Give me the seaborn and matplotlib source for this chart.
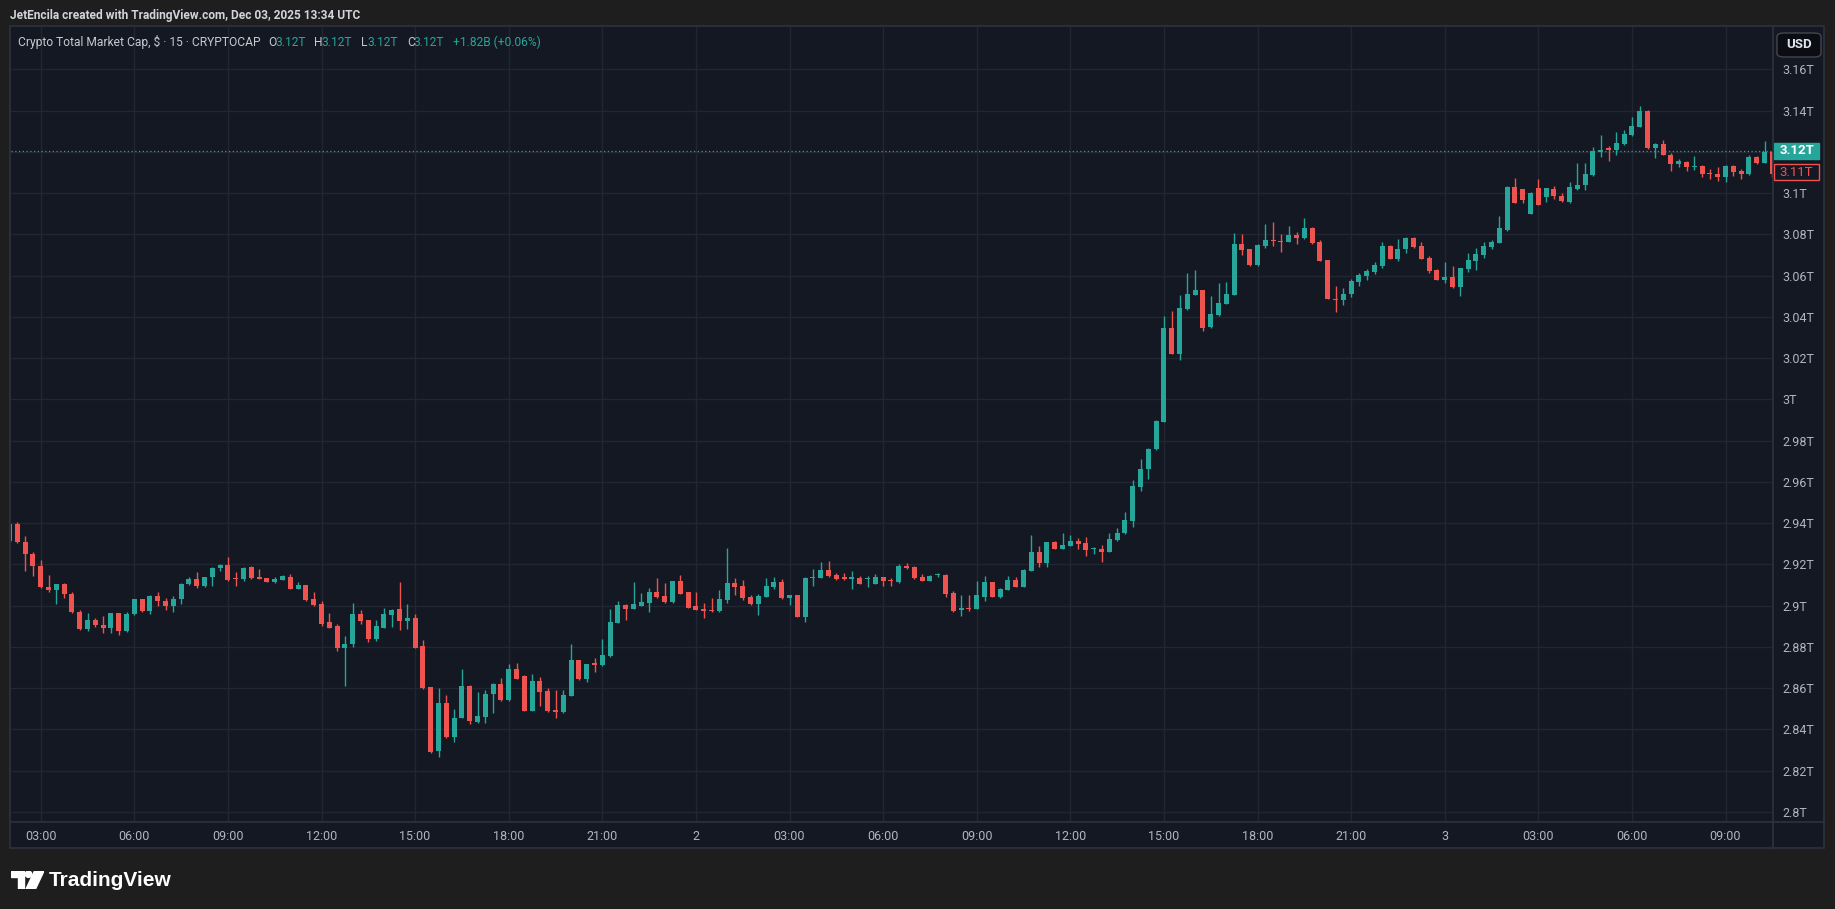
import matplotlib
matplotlib.use("Agg")
import pandas as pd
import matplotlib.pyplot as plt
import matplotlib.transforms as mtransforms
from matplotlib.patches import Rectangle, FancyBboxPatch, Polygon, Circle
from matplotlib.lines import Line2D
from matplotlib import font_manager
import seaborn as sns

W, H = 1835, 909

# 15 minute candles, CRYPTOCAP total market cap in trillions USD
START = "2025-12-01 02:00"

OPEN = [
    2.9316, 2.9397, 2.9310, 2.9251, 2.9193, 2.9089, 2.9076, 2.9104, 2.9057, 2.8971,
    2.8885, 2.8930, 2.8906, 2.8890, 2.8963, 2.8879, 2.8960, 2.9031, 2.8976, 2.9047,
    2.9023, 2.8998, 2.9032, 2.9105, 2.9130, 2.9096, 2.9138, 2.9183, 2.9198, 2.9131,
    2.9127, 2.9188, 2.9137, 2.9132, 2.9116, 2.9126, 2.9137, 2.9080, 2.9100, 2.9032,
    2.9007, 2.8920, 2.8900, 2.8797, 2.8813, 2.8959, 2.8930, 2.8840, 2.8894, 2.8954,
    2.8983, 2.8925, 2.8939, 2.8803, 2.8606, 2.8294, 2.8528, 2.8363, 2.8457, 2.8609,
    2.8437, 2.8460, 2.8573, 2.8622, 2.8541, 2.8695, 2.8657, 2.8492, 2.8633, 2.8586,
    2.8492, 2.8487, 2.8562, 2.8735, 2.8643, 2.8722, 2.8711, 2.8756, 2.8917, 2.9002,
    2.8986, 2.8999, 2.9014, 2.9067, 2.9048, 2.9017, 2.9119, 2.9064, 2.8998, 2.8986,
    2.8978, 2.8973, 2.9027, 2.9111, 2.9096, 2.9043, 2.9007, 2.9043, 2.9092, 2.9116,
    2.9038, 2.9052, 2.8947, 2.9134, 2.9136, 2.9173, 2.9149, 2.9136, 2.9131, 2.9136,
    2.9129, 2.9105, 2.9138, 2.9125, 2.9115, 2.9193, 2.9190, 2.9141, 2.9120, 2.9147,
    2.9149, 2.9063, 2.8979, 2.8989, 2.8982, 2.9044, 2.9117, 2.9041, 2.9076, 2.9125,
    2.9092, 2.9170, 2.9259, 2.9206, 2.9308, 2.9277, 2.9290, 2.9313, 2.9303, 2.9273,
    2.9275, 2.9258, 2.9320, 2.9351, 2.9412, 2.9577, 2.9662, 2.9759, 2.9890, 3.0347,
    3.0219, 3.0436, 3.0505, 3.0530, 3.0351, 3.0408, 3.0463, 3.0507, 3.0753, 3.0727,
    3.0651, 3.0745, 3.0772, 3.0768, 3.0764, 3.0798, 3.0784, 3.0831, 3.0764, 3.0675,
    3.0489, 3.0481, 3.0510, 3.0568, 3.0598, 3.0617, 3.0646, 3.0743, 3.0679, 3.0729,
    3.0782, 3.0743, 3.0685, 3.0628, 3.0578, 3.0593, 3.0543, 3.0630, 3.0670, 3.0700,
    3.0737, 3.0760, 3.0821, 3.1030, 3.1019, 3.0901, 3.1025, 3.0981, 3.1022, 3.0986,
    3.0957, 3.1022, 3.1038, 3.1090, 3.1200, 3.1220, 3.1208, 3.1239, 3.1281, 3.1321,
    3.1399, 3.1219, 3.1240, 3.1187, 3.1143, 3.1151, 3.1127, 3.1130, 3.1096, 3.1095,
    3.1079, 3.1130, 3.1108, 3.1091, 3.1176, 3.1147, 3.1197,
]
HIGH = [
    2.9400, 2.9408, 2.9338, 2.9260, 2.9222, 2.9149, 2.9104, 2.9112, 2.9064, 2.8979,
    2.8963, 2.8938, 2.8950, 2.8966, 2.8966, 2.8969, 2.9034, 2.9034, 2.9050, 2.9068,
    2.9036, 2.9047, 2.9109, 2.9141, 2.9165, 2.9141, 2.9186, 2.9202, 2.9238, 2.9164,
    2.9186, 2.9194, 2.9177, 2.9135, 2.9137, 2.9147, 2.9153, 2.9114, 2.9101, 2.9066,
    2.9023, 2.8965, 2.8913, 2.8852, 2.9014, 2.8978, 2.8933, 2.8930, 2.8991, 2.8986,
    2.9113, 2.9007, 2.8962, 2.8835, 2.8606, 2.8599, 2.8565, 2.8497, 2.8693, 2.8615,
    2.8583, 2.8593, 2.8625, 2.8651, 2.8716, 2.8722, 2.8662, 2.8667, 2.8654, 2.8599,
    2.8589, 2.8589, 2.8816, 2.8738, 2.8719, 2.8745, 2.8837, 2.8983, 2.9023, 2.9010,
    2.9116, 2.9062, 2.9087, 2.9135, 2.9111, 2.9121, 2.9148, 2.9066, 2.9066, 2.9014,
    2.9035, 2.9074, 2.9278, 2.9132, 2.9124, 2.9054, 2.9056, 2.9134, 2.9138, 2.9127,
    2.9054, 2.9052, 2.9138, 2.9176, 2.9212, 2.9217, 2.9157, 2.9160, 2.9170, 2.9144,
    2.9144, 2.9154, 2.9141, 2.9133, 2.9202, 2.9209, 2.9193, 2.9154, 2.9149, 2.9160,
    2.9152, 2.9070, 2.9052, 2.9052, 2.9120, 2.9144, 2.9117, 2.9084, 2.9144, 2.9141,
    2.9176, 2.9343, 2.9290, 2.9311, 2.9314, 2.9351, 2.9343, 2.9327, 2.9332, 2.9283,
    2.9294, 2.9352, 2.9377, 2.9453, 2.9610, 2.9712, 2.9765, 2.9898, 3.0403, 3.0428,
    3.0508, 3.0614, 3.0627, 3.0530, 3.0500, 3.0564, 3.0568, 3.0805, 3.0802, 3.0730,
    3.0751, 3.0850, 3.0860, 3.0800, 3.0840, 3.0811, 3.0878, 3.0834, 3.0772, 3.0675,
    3.0549, 3.0538, 3.0583, 3.0614, 3.0630, 3.0666, 3.0761, 3.0748, 3.0777, 3.0785,
    3.0785, 3.0761, 3.0695, 3.0632, 3.0664, 3.0646, 3.0638, 3.0708, 3.0732, 3.0761,
    3.0772, 3.0889, 3.1035, 3.1074, 3.1019, 3.1006, 3.1070, 3.1025, 3.1035, 3.1002,
    3.1054, 3.1148, 3.1148, 3.1224, 3.1284, 3.1228, 3.1294, 3.1305, 3.1367, 3.1422,
    3.1402, 3.1244, 3.1257, 3.1192, 3.1163, 3.1155, 3.1179, 3.1135, 3.1116, 3.1127,
    3.1135, 3.1134, 3.1119, 3.1184, 3.1179, 3.1252, 3.1197,
]
LOW = [
    2.9310, 2.9306, 2.9168, 2.9146, 2.9087, 2.9068, 2.9008, 2.9036, 2.8966, 2.8882,
    2.8879, 2.8895, 2.8866, 2.8869, 2.8858, 2.8874, 2.8953, 2.8971, 2.8960, 2.8998,
    2.8979, 2.8971, 2.9008, 2.9100, 2.9087, 2.9092, 2.9096, 2.9170, 2.9121, 2.9096,
    2.9118, 2.9130, 2.9129, 2.9113, 2.9111, 2.9124, 2.9079, 2.9079, 2.9025, 2.8999,
    2.8900, 2.8891, 2.8781, 2.8609, 2.8800, 2.8910, 2.8824, 2.8829, 2.8891, 2.8897,
    2.8884, 2.8886, 2.8797, 2.8596, 2.8288, 2.8269, 2.8359, 2.8338, 2.8454, 2.8428,
    2.8431, 2.8431, 2.8479, 2.8538, 2.8538, 2.8643, 2.8489, 2.8489, 2.8512, 2.8484,
    2.8457, 2.8479, 2.8562, 2.8641, 2.8630, 2.8678, 2.8708, 2.8753, 2.8914, 2.8930,
    2.8986, 2.8997, 2.8968, 2.9038, 2.9015, 2.9015, 2.9056, 2.8988, 2.8978, 2.8942,
    2.8968, 2.8970, 2.9014, 2.9051, 2.9030, 2.9002, 2.8954, 2.9040, 2.9079, 2.9032,
    2.9002, 2.8943, 2.8922, 2.9097, 2.9133, 2.9141, 2.9125, 2.9125, 2.9081, 2.9104,
    2.9092, 2.9104, 2.9097, 2.9097, 2.9112, 2.9178, 2.9130, 2.9118, 2.9118, 2.9138,
    2.9044, 2.8971, 2.8950, 2.8976, 2.8982, 2.9024, 2.9041, 2.9037, 2.9076, 2.9089,
    2.9089, 2.9167, 2.9189, 2.9189, 2.9274, 2.9274, 2.9287, 2.9277, 2.9241, 2.9253,
    2.9213, 2.9258, 2.9315, 2.9347, 2.9383, 2.9558, 2.9615, 2.9755, 2.9890, 3.0219,
    3.0189, 3.0432, 3.0505, 3.0332, 3.0348, 3.0403, 3.0462, 3.0507, 3.0701, 3.0646,
    3.0646, 3.0735, 3.0743, 3.0714, 3.0761, 3.0755, 3.0779, 3.0755, 3.0670, 3.0486,
    3.0424, 3.0457, 3.0497, 3.0549, 3.0581, 3.0607, 3.0638, 3.0679, 3.0669, 3.0711,
    3.0732, 3.0679, 3.0614, 3.0577, 3.0562, 3.0538, 3.0500, 3.0617, 3.0627, 3.0687,
    3.0727, 3.0756, 3.0816, 3.0952, 3.0952, 3.0897, 3.0941, 3.0957, 3.0970, 3.0957,
    3.0952, 3.1017, 3.1014, 3.1082, 3.1176, 3.1156, 3.1184, 3.1232, 3.1276, 3.1318,
    3.1216, 3.1172, 3.1184, 3.1108, 3.1127, 3.1108, 3.1111, 3.1078, 3.1067, 3.1059,
    3.1054, 3.1082, 3.1066, 3.1090, 3.1140, 3.1147, 3.1079,
]
CLOSE = [
    2.9397, 2.9310, 2.9251, 2.9193, 2.9089, 2.9076, 2.9104, 2.9057, 2.8971, 2.8885,
    2.8930, 2.8906, 2.8890, 2.8963, 2.8879, 2.8960, 2.9031, 2.8976, 2.9047, 2.9023,
    2.8998, 2.9032, 2.9105, 2.9130, 2.9096, 2.9138, 2.9183, 2.9198, 2.9125, 2.9127,
    2.9183, 2.9133, 2.9129, 2.9116, 2.9130, 2.9142, 2.9080, 2.9100, 2.9027, 2.9002,
    2.8913, 2.8894, 2.8797, 2.8816, 2.8959, 2.8925, 2.8840, 2.8900, 2.8959, 2.8981,
    2.8925, 2.8939, 2.8797, 2.8599, 2.8291, 2.8528, 2.8363, 2.8457, 2.8609, 2.8439,
    2.8463, 2.8573, 2.8622, 2.8541, 2.8695, 2.8646, 2.8492, 2.8633, 2.8581, 2.8489,
    2.8487, 2.8565, 2.8735, 2.8643, 2.8716, 2.8714, 2.8760, 2.8921, 2.9002, 2.8986,
    2.9007, 2.9018, 2.9067, 2.9041, 2.9017, 2.9119, 2.9059, 2.8991, 2.8981, 2.8972,
    2.8972, 2.9032, 2.9111, 2.9092, 2.9035, 2.9007, 2.9048, 2.9095, 2.9116, 2.9035,
    2.9051, 2.8947, 2.9133, 2.9137, 2.9173, 2.9146, 2.9128, 2.9131, 2.9136, 2.9105,
    2.9134, 2.9138, 2.9120, 2.9120, 2.9193, 2.9181, 2.9133, 2.9120, 2.9146, 2.9152,
    2.9057, 2.8976, 2.8989, 2.8982, 2.9052, 2.9117, 2.9044, 2.9079, 2.9125, 2.9092,
    2.9173, 2.9259, 2.9206, 2.9308, 2.9277, 2.9295, 2.9313, 2.9300, 2.9271, 2.9278,
    2.9258, 2.9323, 2.9354, 2.9415, 2.9582, 2.9665, 2.9760, 2.9895, 3.0347, 3.0219,
    3.0442, 3.0510, 3.0530, 3.0348, 3.0413, 3.0466, 3.0510, 3.0753, 3.0724, 3.0651,
    3.0748, 3.0772, 3.0766, 3.0763, 3.0797, 3.0784, 3.0831, 3.0760, 3.0670, 3.0486,
    3.0481, 3.0513, 3.0575, 3.0601, 3.0623, 3.0651, 3.0743, 3.0682, 3.0729, 3.0782,
    3.0737, 3.0680, 3.0622, 3.0578, 3.0593, 3.0543, 3.0635, 3.0675, 3.0704, 3.0743,
    3.0764, 3.0829, 3.1030, 3.0952, 3.0965, 3.1001, 3.0944, 3.1025, 3.0985, 3.0960,
    3.1030, 3.1041, 3.1095, 3.1203, 3.1211, 3.1211, 3.1244, 3.1286, 3.1325, 3.1399,
    3.1219, 3.1240, 3.1187, 3.1143, 3.1155, 3.1127, 3.1132, 3.1091, 3.1091, 3.1079,
    3.1130, 3.1103, 3.1091, 3.1176, 3.1147, 3.1197, 3.1091,
]

PRICE_TICKS = [2.80, 2.82, 2.84, 2.86, 2.88, 2.90, 2.92, 2.94, 2.96, 2.98,
               3.00, 3.02, 3.04, 3.06, 3.08, 3.10, 3.12, 3.14, 3.16]
LAST_PRICE, LAST_LABEL = 3.1205, "3.12T"
PREV_PRICE, PREV_LABEL = 3.1101, "3.11T"

TITLE = "JetEncila created with TradingView.com, Dec 03, 2025 13:34 UTC"
HEADER_NAME = "Crypto Total Market Cap, $ · 15 · CRYPTOCAP"
HEADER_OHLC = [("O", "3.12T"), ("H", "3.12T"), ("L", "3.12T"), ("C", "3.12T")]
HEADER_CHANGE = "+1.82B (+0.06%)"

BG_OUTER = "#1e1e1e"
BG_PANEL = "#141823"
GRID = "#222632"
BORDER = "#2e323d"
TXT = "#b2b5be"
UP = "#26a69a"
DOWN = "#ef5350"

assert len(OPEN) == len(HIGH) == len(LOW) == len(CLOSE)

df = pd.DataFrame({"open": OPEN, "high": HIGH, "low": LOW, "close": CLOSE})
df["time"] = pd.date_range(START, periods=len(df), freq="15min")
df["idx"] = range(len(df))
df["up"] = df["close"] >= df["open"]
df["color"] = df["up"].map({True: UP, False: DOWN})
df["bottom"] = df[["open", "close"]].min(axis=1)
df["body"] = (df["open"] - df["close"]).abs().clip(lower=0.0006)

sns.set_theme(style="dark", rc={
    "figure.facecolor": BG_OUTER,
    "axes.facecolor": BG_PANEL,
    "axes.edgecolor": BG_PANEL,
    "grid.color": GRID,
    "xtick.color": TXT,
    "ytick.color": TXT,
})
names = {f.name for f in font_manager.fontManager.ttflist}
NARROW = "Liberation Sans Narrow" if "Liberation Sans Narrow" in names else "Roboto"
plt.rcParams["font.family"] = [NARROW, "DejaVu Sans"]


def fx(px):
    return px / W


def fy(py):
    return 1 - py / H


fig = plt.figure(figsize=(W / 100, H / 100), dpi=100)
renderer = fig.canvas.get_renderer()


def fit_size(s, width, **kw):
    """Font size at which text s spans about `width` pixels."""
    t = fig.text(0, 0, s, fontsize=10, **kw)
    w = t.get_window_extent(renderer).width
    t.remove()
    return 10 * width / w


# outer chart panel with border (behind the axes)
fig.patches.append(Rectangle((fx(10), fy(848)), 1814 / W, 822 / H, transform=fig.transFigure,
                             facecolor=BG_PANEL, edgecolor=BORDER, lw=1.2, zorder=-2))

# pixel layout of the candle pane: x = 9.5 + 7.8 * index, price scale ~2063 px per 1T
X0, STEP = 9.5, 7.8
ax = fig.add_axes([fx(11), fy(822), (1773 - 11) / W, (822 - 27) / H])
ax.set_xlim((11 - X0) / STEP, (1773 - X0) / STEP)
ax.set_ylim(2.8 - 10 / 2063, 2.8 + 785 / 2063)

ticks = df[(df["time"].dt.minute == 0) & (df["time"].dt.hour % 3 == 0)]
labels = [str(t.day) if t.hour == 0 else t.strftime("%H:%M") for t in ticks["time"]]
ax.set_xticks(ticks["idx"], labels)
ax.set_yticks(PRICE_TICKS, [f"{round(v, 2):g}T" for v in PRICE_TICKS])
ax.yaxis.tick_right()
ax.tick_params(axis="y", length=0, pad=6.5, labelsize=9, colors=TXT)
ax.tick_params(axis="x", length=0, pad=6, labelsize=9, colors=TXT)
ax.grid(True, color=GRID, lw=1)
for s in ax.spines.values():
    s.set_visible(False)

# candles: wicks then bodies
ax.vlines(df["idx"], df["low"], df["high"], colors=df["color"], lw=1, zorder=2)
ax.bar(df["idx"], df["body"], bottom=df["bottom"], width=0.64, color=df["color"],
       linewidth=0, zorder=3)

# last price line
ax.axhline(LAST_PRICE, color=UP, lw=0.9, ls=(0, (1, 2)), zorder=1)

# price labels on the scale
blend = mtransforms.blended_transform_factory(fig.transFigure, ax.transData)
hh = 8 / 2063
ax.add_patch(Rectangle((fx(1774), LAST_PRICE - hh), 45 / W, 2 * hh, transform=blend,
                       facecolor=UP, edgecolor=UP, clip_on=False, zorder=5))
ax.text(fx(1796.5), LAST_PRICE, LAST_LABEL, transform=blend, ha="center", va="center",
        color="white", fontsize=9.5, fontweight="bold", zorder=6, clip_on=False)
ax.add_patch(Rectangle((fx(1774), PREV_PRICE - hh), 45 / W, 2 * hh, transform=blend,
                       facecolor=BG_PANEL, edgecolor=DOWN, lw=1, clip_on=False, zorder=5))
ax.text(fx(1796.5), PREV_PRICE, PREV_LABEL, transform=blend, ha="center", va="center",
        color=DOWN, fontsize=9.5, zorder=6, clip_on=False)

# separators between panes
fig.lines.append(Line2D([fx(11), fx(1824)], [fy(822), fy(822)], transform=fig.transFigure,
                        color=BORDER, lw=1.2))
fig.lines.append(Line2D([fx(1773), fx(1773)], [fy(27), fy(848)], transform=fig.transFigure,
                        color=BORDER, lw=1.2))

# currency button
fig.patches.append(FancyBboxPatch((fx(1777), fy(57)), 44 / W, 24 / H, transform=fig.transFigure,
                                  boxstyle="round,pad=0,rounding_size=0.004",
                                  facecolor="#0b0d12", edgecolor="#434651", lw=1, zorder=1))
fig.text(fx(1799), fy(45), "USD", ha="center", va="center", color="#e0e3eb", fontsize=9.5,
         fontweight="bold", zorder=4)

# title and symbol header
fig.text(fx(10), fy(15), TITLE, ha="left", va="center", color="#d1d4dc",
         fontsize=fit_size(TITLE, 350, fontweight="bold"), fontweight="bold")
hsize = fit_size(HEADER_NAME, 242)
fig.text(fx(18), fy(42), HEADER_NAME, ha="left", va="center", color="#c8cad0", fontsize=hsize)
x = 268
for key, val in HEADER_OHLC:
    fig.text(fx(x), fy(42), key, ha="left", va="center", color="#c8cad0", fontsize=hsize)
    fig.text(fx(x + 7), fy(42), val, ha="left", va="center", color=UP, fontsize=hsize)
    x += 46.3
fig.text(fx(453), fy(42), HEADER_CHANGE, ha="left", va="center", color=UP, fontsize=hsize)

# TradingView logo
lax = fig.add_axes([fx(11), fy(889), 33 / W, 18 / H])
lax.set_xlim(0, 33)
lax.set_ylim(0, 18)
lax.axis("off")
lax.add_patch(Polygon([(0, 18), (13, 18), (13, 0), (6.5, 0), (6.5, 12), (0, 12)],
                      closed=True, color="white"))
lax.add_patch(Circle((17.5, 14.8), 3.2, color="white"))
lax.add_patch(Polygon([(23.5, 18), (33, 18), (24.5, 0), (15, 0)], closed=True, color="white"))
fig.text(fx(49), fy(880), "TradingView", ha="left", va="center", color="white", fontsize=15,
         fontweight="bold", family=["Liberation Sans", "DejaVu Sans"])

fig.savefig("out.png", dpi=100, facecolor=BG_OUTER)
